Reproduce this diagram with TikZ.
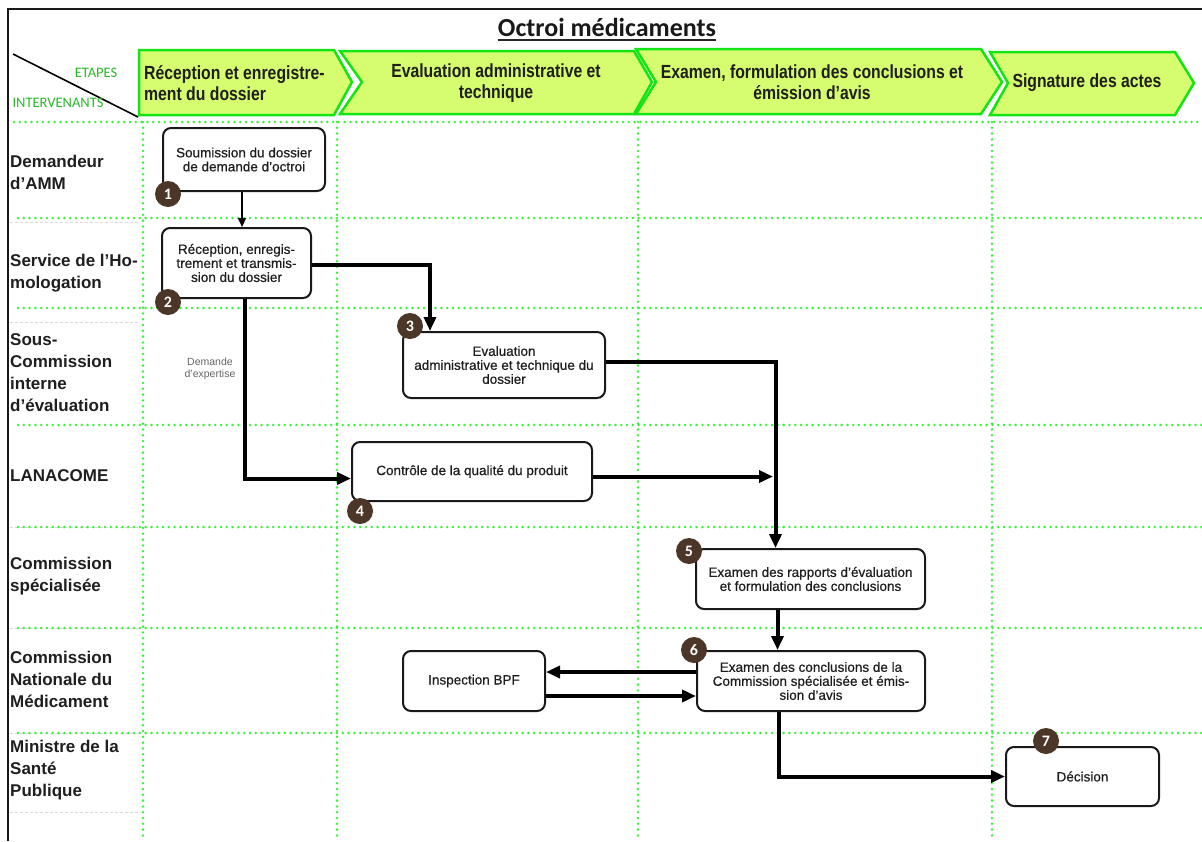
\documentclass[tikz,border=0pt]{standalone}
\usepackage{fontspec}
\setmainfont{Liberation Sans}
\newfontfamily\narrowf[FakeStretch=0.83]{Liberation Sans}
\newfontfamily\boxf[FakeBold=0.6]{Liberation Sans}
\newfontfamily\carlito{Carlito}
\usetikzlibrary{arrows.meta}
\definecolor{chevfill}{RGB}{214,252,112}
\definecolor{chevline}{RGB}{20,228,20}
\definecolor{gridgreen}{RGB}{60,242,60}
\definecolor{labgreen}{RGB}{40,185,40}
\definecolor{badge}{RGB}{76,54,40}
\definecolor{boxtext}{RGB}{30,30,30}
\begin{document}
\begin{tikzpicture}[x=1pt,y=-1pt,
  chev/.style={fill=chevfill,draw=chevline,line width=2.5pt,line join=miter},
  chevtext/.style={font=\narrowf\bfseries\fontsize{19}{21}\selectfont,text=black!88,inner sep=0pt},
  gridline/.style={draw=gridgreen,line width=2.8pt,dash pattern=on 0pt off 5.8pt,line cap=round},
  faint/.style={draw=black!15,line width=0.8pt,dash pattern=on 3pt off 2pt},
  lane/.style={font=\bfseries\fontsize{17}{22}\selectfont,text=black!88,align=left,anchor=west,inner sep=0pt},
  stepbox/.style={draw=black!90,line width=2pt,rounded corners=8pt,fill=white,align=center,font=\boxf\fontsize{13.5}{14}\selectfont,text=boxtext,inner sep=0pt},
  num/.style={circle,fill=badge,minimum size=26pt,inner sep=0pt,text=white,font=\carlito\bfseries\fontsize{16}{16}\selectfont},
  link/.style={line width=4pt,-{Triangle[length=14pt,width=12pt]}},
  thinlink/.style={line width=2.2pt,-{Triangle[length=9pt,width=8pt]}}]

\useasboundingbox (0,0) rectangle (1202,841);
\fill[white] (0,0) rectangle (1202,841);

% frame
\draw[line width=2.5pt,black!90] (8,841) -- (8,9) -- (1202,9);

% title
\node[font=\carlito\bfseries\fontsize{26}{26}\selectfont,text=black!90,inner sep=0pt,anchor=base] (title) at (607,36) {Octroi médicaments};
\draw[line width=1.8pt,black!85] ([yshift=-4pt]title.base west) -- ([yshift=-4pt]title.base east);

% header corner
\draw[line width=1.6pt] (13,54) -- (138,117);
\node[font=\carlito\fontsize{14.5}{14.5}\selectfont,text=labgreen,inner sep=0pt] (etapes) at (96,73) {ETAPES};
\node[font=\carlito\fontsize{14.5}{14.5}\selectfont,text=labgreen,inner sep=0pt] (interv) at (58,103) {INTERVENANTS};

% faint grey separators in the left column
\foreach \yy in {222,322,527,628,733,812}
  \draw[faint] (10,\yy) -- (140,\yy);

% grid
\draw[gridline] (14,122) -- (1202,122);
\foreach \yy in {218,308,425,527,628,733}
  \draw[gridline] (18,\yy) -- (1202,\yy);
\foreach \xx in {143,337,638,992}
  \draw[gridline] (\xx,122) -- (\xx,841);

% chevrons
\draw[chev] (139,50) -- (334,50) -- (352,82) -- (334,115) -- (139,115) -- cycle;
\draw[chev] (340,51) -- (634,51) -- (652,82) -- (634,114) -- (340,114) -- (362,82) -- cycle;
\draw[chev] (636,49) -- (981,49) -- (1002,82) -- (981,114) -- (636,114) -- (656,82) -- cycle;
\draw[chev] (990,52) -- (1175,52) -- (1194,83) -- (1175,115) -- (990,115) -- (1008,83) -- cycle;

\node[chevtext,align=left,anchor=west] (c1) at (144,83) {Réception et enregistre-\\ment du dossier};
\node[chevtext,align=center] (c2) at (496,83) {Evaluation administrative et\\technique};
\node[chevtext,align=center] (c3) at (812,82) {Examen, formulation des conclusions et\\émission d’avis};
\node[chevtext,align=center] (c4) at (1087,83) {Signature des actes};

% lanes
\node[lane] (l1) at (10,172) {Demandeur\\d’AMM};
\node[lane] (l2) at (10,273) {Service de l’Ho-\\mologation};
\node[lane] (l3) at (10,373) {Sous-\\Commission\\interne\\d’évaluation};
\node[lane] (l4) at (10,476) {LANACOME};
\node[lane] (l5) at (10,576) {Commission\\spécialisée};
\node[lane] (l6) at (10,679) {Commission\\Nationale du\\Médicament};
\node[lane] (l7) at (10,770) {Ministre de la\\Santé\\Publique};

% boxes
\node[stepbox,minimum width=162pt,minimum height=63pt] (b1) at (244,159.5) {Soumission du dossier\\de demande d’octroi};
\node[stepbox,minimum width=149pt,minimum height=70pt] (b2) at (236.5,263) {Réception, enregis-\\trement et transmis-\\sion du dossier};
\node[stepbox,minimum width=202pt,minimum height=66pt] (b3) at (504,365) {Evaluation\\administrative et technique du\\dossier};
\node[stepbox,minimum width=240pt,minimum height=59pt] (b4) at (472,471.5) {Contrôle de la qualité du produit};
\node[stepbox,minimum width=229pt,minimum height=60pt] (b5) at (810.5,579) {Examen des rapports d’évaluation\\et formulation des conclusions};
\node[stepbox,minimum width=228pt,minimum height=60pt] (b6) at (811,681) {Examen des conclusions de la\\Commission spécialisée et émis-\\sion d’avis};
\node[stepbox,minimum width=142pt,minimum height=60pt] (bpf) at (474,681) {Inspection BPF};
\node[stepbox,minimum width=153pt,minimum height=59pt] (dec) at (1082.5,776.5) {Décision};

% label
\node[font=\fontsize{10.5}{12.5}\selectfont,text=black!60,align=center,inner sep=0pt] (dexp) at (210,369) {Demande\\d’expertise};

% connectors
\coordinate (j) at (773,476.5);
\draw[thinlink] ([xshift=-2pt]b1.south) -- ([xshift=-2pt]b1.south |- b2.north);
\draw[link] ([yshift=-2pt]b2.east) -| ([xshift=-74pt]b3.north);
\draw[link] ([xshift=8.5pt]b2.south) |- ([yshift=-7pt]b4.west);
\draw[link] ([yshift=3pt]b3.east) -| ([xshift=-35pt]b5.north);
\draw[link] ([yshift=-5pt]b4.east) -- (j);
\draw[link] ([xshift=-33pt]b5.south) -- ([xshift=-33pt]b5.south |- b6.north);
\draw[link] ([yshift=9pt]b6.west) -- ([yshift=9pt]bpf.east);
\draw[link] ([yshift=-15pt]bpf.east) -- ([yshift=-15pt]b6.west);
\draw[link] ([xshift=-32pt]b6.south) |- (dec.west);

% badges
\node[num] (n1) at (168,194) {1};
\node[num] (n2) at (168,302) {2};
\node[num] (n3) at (410,326) {3};
\node[num] (n4) at (360,511) {4};
\node[num] (n5) at (689,551) {5};
\node[num] (n6) at (694,650) {6};
\node[num] (n7) at (1046,741) {7};
\end{tikzpicture}
\end{document}
